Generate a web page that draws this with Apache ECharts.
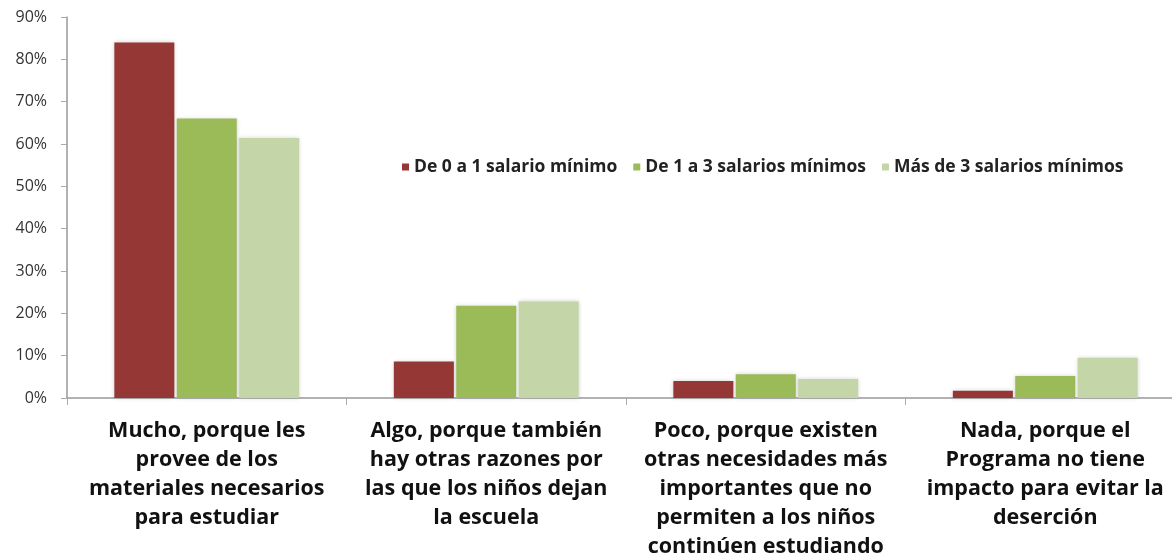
<!DOCTYPE html>
<html>
<head>
<meta charset="utf-8">
<script src="https://cdn.jsdelivr.net/npm/echarts@6/dist/echarts.min.js"></script>
<style>
  html, body { margin: 0; padding: 0; background: #fff; }
  #chart { width: 1172px; height: 554px; }
</style>
</head>
<body>
<div id="chart"></div>
<script>
const categories = [
  'Mucho, porque les\nprovee de los\nmateriales necesarios\npara estudiar',
  'Algo, porque también\nhay otras razones por\nlas que los niños dejan\nla escuela',
  'Poco, porque existen\notras necesidades más\nimportantes que no\npermiten a los niños\ncontinúen estudiando',
  'Nada, porque el\nPrograma no tiene\nimpacto para evitar la\ndeserción'
];
const seriesNames = ['De 0 a 1 salario mínimo', 'De 1 a 3 salarios mínimos', 'Más de 3 salarios mínimos'];
const low = [84, 8.6, 4.0, 1.7];
const mid = [66, 21.8, 5.6, 5.2];
const high = [61.4, 22.8, 4.5, 9.5];
const yTicks = [0, 10, 20, 30, 40, 50, 60, 70, 80, 90];

const colors = ['#953735', '#9bbb59', '#c4d6a8'];
const chart = echarts.init(document.getElementById('chart'));

// barra con un leve halo gris como en el original
const mkBar = (name, data, i) => ({
  name: name,
  type: 'bar',
  data: data,
  barWidth: 60,
  barGap: '4%',
  itemStyle: {
    color: colors[i],
    shadowColor: 'rgba(0,0,0,0.18)',
    shadowBlur: 4
  }
});

chart.setOption({
  animation: false,
  textStyle: { fontFamily: '"Open Sans", sans-serif' },
  legend: {
    top: 153,
    left: 397,
    icon: 'rect',
    itemWidth: 7,
    itemHeight: 7,
    itemGap: 16,
    textStyle: { fontSize: 17.5, fontWeight: 'bold', color: '#222' },
    data: seriesNames
  },
  grid: { left: 67, right: -13, top: 17, bottom: 156, containLabel: false, outerBoundsMode: 'none' },
  xAxis: {
    type: 'category',
    data: categories,
    axisLine: { lineStyle: { color: '#999', width: 1.5 } },
    axisTick: { show: true, length: 7, lineStyle: { color: '#aaa' } },
    axisLabel: {
      interval: 0,
      margin: 18,
      fontSize: 21.5,
      fontWeight: 'bold',
      lineHeight: 29,
      color: '#111',
      align: 'center'
    }
  },
  yAxis: {
    type: 'value',
    min: yTicks[0],
    max: yTicks[yTicks.length - 1],
    interval: 10,
    axisLine: { show: true, lineStyle: { color: '#999', width: 1.5 } },
    axisTick: { show: true, length: 6, lineStyle: { color: '#aaa' } },
    splitLine: { show: false },
    axisLabel: {
      formatter: '{value}%',
      fontSize: 16,
      color: '#333',
      margin: 20
    }
  },
  series: [mkBar(seriesNames[0], low, 0), mkBar(seriesNames[1], mid, 1), mkBar(seriesNames[2], high, 2)]
});
</script>
</body>
</html>
